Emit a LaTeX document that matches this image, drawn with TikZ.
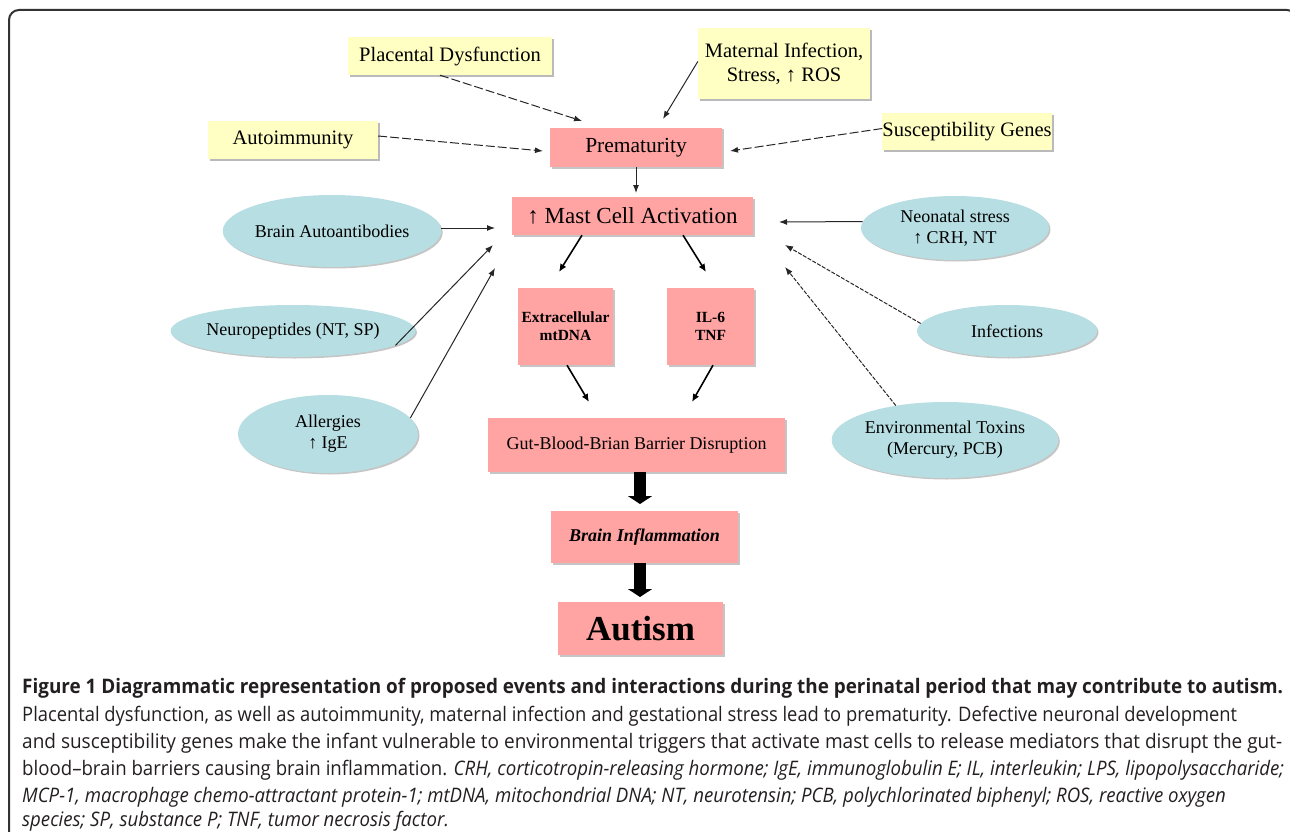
\documentclass[tikz,border=0pt]{standalone}
\usepackage{fontspec}
\setmainfont{Liberation Serif}
\newfontfamily\capfont{Open Sans}
\usepackage{graphicx}
\usetikzlibrary{shapes.geometric,arrows.meta,shadows}
\definecolor{yfill}{RGB}{255,255,196}
\definecolor{pfill}{RGB}{255,163,163}
\definecolor{tfill}{RGB}{183,222,226}
\definecolor{captxt}{RGB}{35,31,32}
\newsavebox\fitbox
\newcommand\fitline[2]{\sbox\fitbox{#2}\pgfmathsetmacro\fitsx{#1/\the\wd\fitbox}\global\let\lastsx\fitsx\scalebox{\fitsx}[1]{\usebox\fitbox}}
\newcommand\sameline[1]{\scalebox{\lastsx}[1]{#1}}
\begin{document}
\begin{tikzpicture}[x=1pt,y=-1pt,
  ybox/.style={rectangle, fill=yfill, inner sep=0pt, align=center,
    font=\fontsize{20.5}{24}\selectfont,
    drop shadow={shadow xshift=2pt,shadow yshift=-2pt,fill=black!45,opacity=0.6}},
  pbox/.style={rectangle, fill=pfill, inner sep=0pt, align=center,
    drop shadow={shadow xshift=1.5pt,shadow yshift=-1.5pt,fill=black!45,opacity=0.5}},
  ell/.style={ellipse, fill=tfill, inner sep=0pt, align=center,
    font=\fontsize{18}{21}\selectfont,
    drop shadow={shadow xshift=1.5pt,shadow yshift=-1.5pt,fill=black!45,opacity=0.5}},
  arr/.style={-{Latex[length=8pt,width=6pt]}, line width=1pt, draw=black!85},
  dsh/.style={arr, dash pattern=on 9pt off 3pt},
  fdsh/.style={arr, dash pattern=on 4pt off 1.5pt},
  marr/.style={-{Latex[length=8pt,width=7pt]}, line width=1.6pt},
  blk/.style={line width=12pt, -{Triangle[length=8pt,width=24pt]}},
  capline/.style={anchor=base west, inner sep=0pt, text=captxt, font=\capfont\fontsize{20}{24}\selectfont}
]
\useasboundingbox (0,0) rectangle (1290,832);
\draw[line width=2pt, draw=black!80, rounded corners=10pt] (9,845) -- (9,10) -- (1297,10) -- (1297,845);

% yellow boxes
\node[ybox, minimum width=204pt, minimum height=38pt] (plac) at (450,56) {Placental Dysfunction};
\node[ybox, minimum width=170pt, minimum height=38pt] (auto) at (293,140) {Autoimmunity};
\node[ybox, minimum width=172pt, minimum height=71pt] (mat) at (784,63.5) {Maternal Infection,\\Stress, ↑ ROS};
\node[ybox, minimum width=166pt, minimum height=37pt] (susc) at (967,131.5) {Susceptibility Genes};

% pink boxes
\node[pbox, minimum width=172pt, minimum height=39pt, font=\fontsize{21.5}{24}\selectfont] (prem) at (636,147.5) {Prematurity};
\node[pbox, minimum width=241pt, minimum height=38pt, font=\fontsize{23}{26}\selectfont] (mast) at (632.5,216) {↑ Mast Cell Activation};
\node[pbox, minimum width=95pt, minimum height=77pt, font=\bfseries\fontsize{15.5}{18}\selectfont] (extra) at (565.5,326.5) {Extracellular\\mtDNA};
\node[pbox, minimum width=87pt, minimum height=77pt, font=\bfseries\fontsize{15.5}{18}\selectfont] (il6) at (710.5,326.5) {IL-6\\TNF};
\node[pbox, minimum width=297pt, minimum height=54pt, font=\fontsize{18}{21}\selectfont] (gut) at (636.5,445) {Gut-Blood-Brian Barrier Disruption};
\node[pbox, minimum width=187pt, minimum height=52pt, font=\bfseries\itshape\fontsize{18}{21}\selectfont] (brain) at (644.5,537) {Brain Inflammation};
\node[pbox, minimum width=165pt, minimum height=53pt, font=\bfseries\fontsize{35}{38}\selectfont] (autism) at (640.5,628.5) {Autism};

% ellipses
\node[ell, minimum width=190pt, minimum height=72pt] (bab) at (332,231) {Brain Autoantibodies};
\node[ell, minimum width=188pt, minimum height=52pt] (neuro) at (293,331) {Neuropeptides (NT, SP)};
\node[ell, minimum width=180pt, minimum height=78pt] (allerg) at (328,434) {Allergies\\↑ IgE};
\node[ell, minimum width=188pt, minimum height=64pt] (neon) at (955,228) {Neonatal stress\\↑ CRH, NT};
\node[ell, minimum width=180pt, minimum height=52pt] (inf) at (1007,331) {Infections};
\node[ell, minimum width=196pt, minimum height=76pt] (env) at (945,440) {Environmental Toxins\\(Mercury, PCB)};

% free ends
\coordinate (pe1) at (582,121);
\coordinate (pe2) at (543,151);
\coordinate (pe3) at (663,119);
\coordinate (pe4) at (730,151);
\coordinate (me0) at (636,193);
\coordinate (me1) at (495,228);
\coordinate (me2) at (493,245);
\coordinate (me3) at (495,268);
\coordinate (me4) at (779,222);
\coordinate (me5) at (785,245);
\coordinate (me6) at (785,267);
\coordinate (xe1) at (559,272);
\coordinate (xe2) at (706,272);
\coordinate (ge1) at (589,402);
\coordinate (ge2) at (692,402);
\coordinate (gs) at (640,472);
\coordinate (ge) at (640,504);
\coordinate (bs) at (640,563);
\coordinate (be) at (640,597);

% connectors
\draw[dsh] ([xshift=-10pt]plac.south) -- (pe1);
\draw[dsh] ([yshift=4pt]auto.east) -- (pe2);
\draw[arr] ([yshift=2pt]mat.west) -- (pe3);
\draw[dsh] ([yshift=3pt]susc.west) -- (pe4);
\draw[arr] (prem.south) -- (me0);
\draw[arr] ([yshift=3pt]bab.east) -- (me1);
\draw[arr] (neuro.-8) -- (me2);
\draw[arr] (allerg.11) -- (me3);
\draw[arr] (neon.176) -- (me4);
\draw[fdsh] (inf.175) -- (me5);
\draw[fdsh] (env.145) -- (me6);
\draw[marr] ([xshift=-50.5pt]mast.south) -- (xe1);
\draw[marr] ([xshift=50.5pt]mast.south) -- (xe2);
\draw[marr] ([xshift=1.5pt]extra.south) -- (ge1);
\draw[marr] ([xshift=2.5pt]il6.south) -- (ge2);
\draw[blk] (gs) -- (ge);
\draw[blk] (bs) -- (be);

% caption
\node[capline] (cap1) at (22,693) {\fitline{1261}{\bfseries Figure 1 Diagrammatic representation of proposed events and interactions during the perinatal period that may contribute to autism.}};
\node[capline] (cap2) at (22,721) {\fitline{1215}{Placental dysfunction, as well as autoimmunity, maternal infection and gestational stress lead to prematurity. Defective neuronal development}};
\node[capline] (cap3) at (22,748) {\fitline{1260}{and susceptibility genes make the infant vulnerable to environmental triggers that activate mast cells to release mediators that disrupt the gut-}};
\node[capline] (cap4) at (22,775) {\fitline{1262}{blood–brain barriers causing brain inflammation. \textit{CRH, corticotropin-releasing hormone; IgE, immunoglobulin E; IL, interleukin; LPS, lipopolysaccharide;}}};
\node[capline] (cap5) at (22,802) {\sameline{\itshape MCP-1, macrophage chemo-attractant protein-1; mtDNA, mitochondrial DNA; NT, neurotensin; PCB, polychlorinated biphenyl; ROS, reactive oxygen}};
\node[capline] (cap6) at (22,826) {\sameline{\itshape species; SP, substance P; TNF, tumor necrosis factor.}};
\end{tikzpicture}
\end{document}
